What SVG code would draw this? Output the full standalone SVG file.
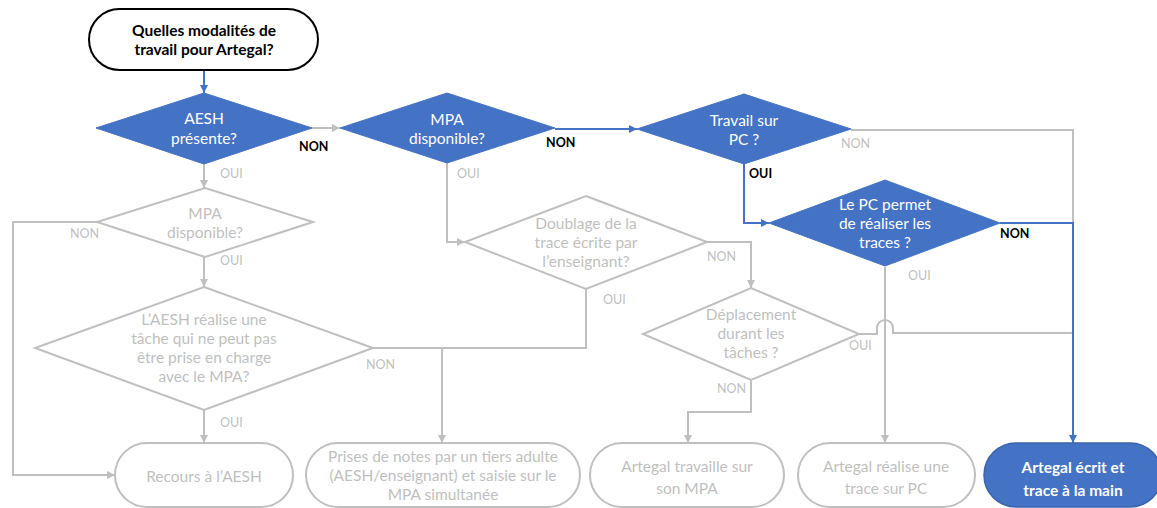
<svg xmlns="http://www.w3.org/2000/svg" width="1157" height="508" viewBox="0 0 1157 508">
<style>
  .t{font-family:Lato,"Liberation Sans",sans-serif;font-size:15.5px;text-anchor:middle}
  .w{fill:#ffffff}
  .g{fill:#BFBFBF}
  .b{font-weight:bold}
  .k{fill:#000000}
  .lab{font-family:Lato,"Liberation Sans",sans-serif;font-size:12.5px}
  .dB{fill:#4472C4;stroke:#4472C4;stroke-width:1}
  .dG{fill:#ffffff;stroke:#BFBFBF;stroke-width:2}
  .cg{fill:none;stroke:#BFBFBF;stroke-width:2}
  .cb{fill:none;stroke:#4472C4;stroke-width:2}
</style>
<defs>
  <marker id="ag" markerUnits="userSpaceOnUse" markerWidth="10" markerHeight="10" refX="8" refY="4" orient="auto">
    <path d="M0,0 L8,4 L0,8 Z" fill="#BFBFBF"/>
  </marker>
  <marker id="ab" markerUnits="userSpaceOnUse" markerWidth="10" markerHeight="10" refX="8" refY="4" orient="auto">
    <path d="M0,0 L8,4 L0,8 Z" fill="#4472C4"/>
  </marker>
</defs>
<rect width="1157" height="508" fill="#ffffff"/>
<g id="connectors">
  <path class="cb" d="M204,70 V93" marker-end="url(#ab)"/>
  <path class="cg" d="M312,128 H340" marker-end="url(#ag)"/>
  <path class="cg" d="M204,164 V188" marker-end="url(#ag)"/>
  <path class="cb" d="M555,129 H637" marker-end="url(#ab)"/>
  <path class="cg" d="M447,163 V242 H465" marker-end="url(#ag)"/>
  <path class="cb" d="M744,164 V223 H769" marker-end="url(#ab)"/>
  <path class="cg" d="M851,130 H1073 V223"/>
  <path class="cg" d="M97,222 H13 V475 H115" marker-end="url(#ag)"/>
  <path class="cg" d="M204,257 V287" marker-end="url(#ag)"/>
  <path class="cg" d="M204,410 V443" marker-end="url(#ag)"/>
  <path class="cg" d="M373,348 H442 V443" marker-end="url(#ag)"/>
  <path class="cg" d="M586,289 V348 H442"/>
  <path class="cg" d="M707,242 H751 V288" marker-end="url(#ag)"/>
  <path class="cg" d="M751,380 V412 H688 V443" marker-end="url(#ag)"/>
  <path class="cg" d="M885,267 V443" marker-end="url(#ag)"/>
  <path class="cg" d="M859,334 H877 V328 A8,8 0 0 1 893,328 V333 H1073"/>
  <path class="cb" d="M1000,223 H1073 V443" marker-end="url(#ab)"/>
</g>
<g id="labels">
  <text class="lab b k" x="299" y="151">NON</text>
  <text class="lab g" x="220" y="178">OUI</text>
  <text class="lab b k" x="546" y="147">NON</text>
  <text class="lab g" x="457" y="178">OUI</text>
  <text class="lab g" x="841" y="148">NON</text>
  <text class="lab b k" x="749" y="178">OUI</text>
  <text class="lab b k" x="1000" y="238">NON</text>
  <text class="lab g" x="908" y="280">OUI</text>
  <text class="lab g" x="70" y="238">NON</text>
  <text class="lab g" x="220" y="265">OUI</text>
  <text class="lab g" x="366" y="369">NON</text>
  <text class="lab g" x="220" y="427">OUI</text>
  <text class="lab g" x="707" y="261">NON</text>
  <text class="lab g" x="603" y="304">OUI</text>
  <text class="lab g" x="849" y="350">OUI</text>
  <text class="lab g" x="717" y="393">NON</text>
</g>
<g id="start">
  <rect x="89" y="9" width="229" height="61" rx="30.5" fill="#ffffff" stroke="#000000" stroke-width="2"/>
  <text class="t b k" x="204" y="36">Quelles modalités de</text>
  <text class="t b k" x="204" y="55">travail pour Artegal?</text>
</g>
<g id="aesh">
  <polygon class="dB" points="204,93 312,128 204,164 96,128"/>
  <text class="t w" x="204" y="124">AESH</text>
  <text class="t w" x="204" y="144">présente?</text>
</g>
<g id="mpa1">
  <polygon class="dB" points="447,93 555,128 447,163 340,128"/>
  <text class="t w" x="447" y="125">MPA</text>
  <text class="t w" x="447" y="144">disponible?</text>
</g>
<g id="travail">
  <polygon class="dB" points="744,94 851,129 744,164 637,129"/>
  <text class="t w" x="744" y="126">Travail sur</text>
  <text class="t w" x="744" y="145">PC ?</text>
</g>
<g id="lepc">
  <polygon class="dB" points="885,180 1000,223 885,266 769,223"/>
  <text class="t w" x="885" y="210">Le PC permet</text>
  <text class="t w" x="885" y="229">de réaliser les</text>
  <text class="t w" x="885" y="248">traces ?</text>
</g>
<g id="mpa2">
  <polygon class="dG" points="205,188 313,222 205,257 97,222"/>
  <text class="t g" x="205" y="219">MPA</text>
  <text class="t g" x="205" y="238">disponible?</text>
</g>
<g id="aeshtache">
  <polygon class="dG" points="204,287 373,348 204,410 35,348"/>
  <text class="t g" x="204" y="325">L’AESH réalise une</text>
  <text class="t g" x="204" y="344">tâche qui ne peut pas</text>
  <text class="t g" x="204" y="363">être prise en charge</text>
  <text class="t g" x="204" y="382">avec le MPA?</text>
</g>
<g id="doublage">
  <polygon class="dG" points="586,196 707,242 586,289 465,242"/>
  <text class="t g" x="586" y="229">Doublage de la</text>
  <text class="t g" x="586" y="248">trace écrite par</text>
  <text class="t g" x="586" y="267">l’enseignant?</text>
</g>
<g id="deplacement">
  <polygon class="dG" points="751,288 859,334 751,380 643,334"/>
  <text class="t g" x="751" y="320">Déplacement</text>
  <text class="t g" x="751" y="339">durant les</text>
  <text class="t g" x="751" y="358">tâches ?</text>
</g>
<g id="recours">
  <rect x="115" y="443" width="178" height="64" rx="32" fill="#ffffff" stroke="#BFBFBF" stroke-width="2"/>
  <text class="t g" x="204" y="482">Recours à l’AESH</text>
</g>
<g id="prises">
  <rect x="306" y="443" width="274" height="64" rx="32" fill="#ffffff" stroke="#BFBFBF" stroke-width="2"/>
  <text class="t g" x="443" y="462">Prises de notes par un tiers adulte</text>
  <text class="t g" x="443" y="481">(AESH/enseignant) et saisie sur le</text>
  <text class="t g" x="443" y="500">MPA simultanée</text>
</g>
<g id="travaillempa">
  <rect x="590" y="443" width="194" height="64" rx="32" fill="#ffffff" stroke="#BFBFBF" stroke-width="2"/>
  <text class="t g" x="687" y="472">Artegal travaille sur</text>
  <text class="t g" x="687" y="494">son MPA</text>
</g>
<g id="tracepc">
  <rect x="798" y="443" width="177" height="64" rx="32" fill="#ffffff" stroke="#BFBFBF" stroke-width="2"/>
  <text class="t g" x="886" y="472">Artegal réalise une</text>
  <text class="t g" x="886" y="494">trace sur PC</text>
</g>
<g id="main">
  <rect x="984" y="443" width="178" height="64" rx="32" fill="#4472C4" stroke="#3B64AD" stroke-width="1.5"/>
  <text class="t b w" x="1073" y="473">Artegal écrit et</text>
  <text class="t b w" x="1073" y="496">trace à la main</text>
</g>
</svg>
